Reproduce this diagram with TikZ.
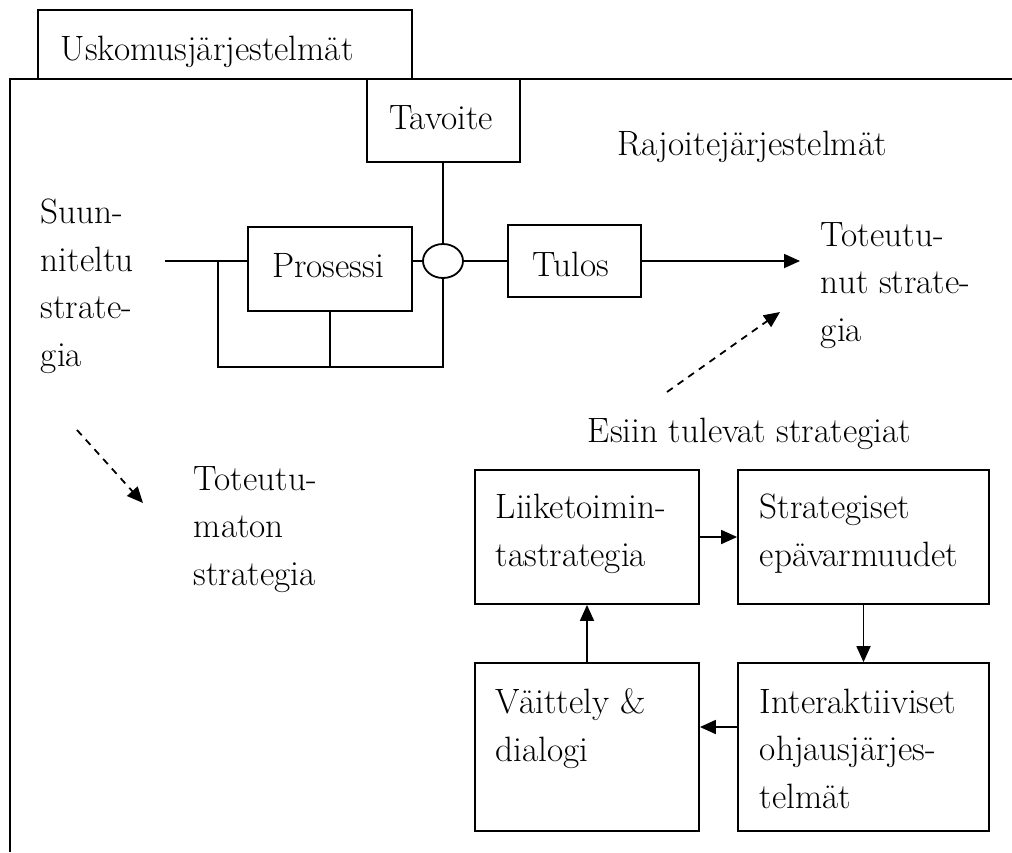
\documentclass[tikz,border=0pt]{standalone}
\usepackage{fontspec}
\usetikzlibrary{arrows.meta,fit,shapes.geometric}
\tikzset{
  box/.style={draw,line width=0.9pt,inner sep=0pt},
  lbl/.style={anchor=base west,inner sep=0pt,align=left},
  arr/.style={line width=0.9pt,-{Triangle[length=8pt,width=7pt]}},
  darr/.style={arr,dash pattern=on 3.5pt off 3pt}
}
\begin{document}
\begin{tikzpicture}[x=0.5pt,y=-0.5pt,line width=0.9pt,font=\fontsize{17.6}{23.75}\selectfont]
\useasboundingbox (0,0) rectangle (1012,852);
\draw[line width=1.3pt] (10,852) -- (10,79) -- (1012,79);
\node[box,fit={(38,10) (412,79)}] (usko) {};
\node[lbl] (uskotxt) at (60,60) {Uskomusjärjestelmät};
\node[box,fit={(367,79) (520,162)}] (tavoite) {};
\node[anchor=base,inner sep=0pt] (tavoitetxt) at (441,129) {Tavoite};
\node[lbl] (rajoite) at (617,155) {Rajoitejärjestelmät};
\node[lbl] (suun) at (40,366) {Suun-\\niteltu\\strate-\\gia};
\node[box,fit={(248,227) (412,311)}] (pros) {};
\node[anchor=base,inner sep=0pt] (prostxt) at (328,277) {Prosessi};
\node[draw,ellipse,inner sep=0pt,minimum width=20pt,minimum height=17pt] (knot) at (443,261) {};
\node[box,fit={(508,225) (641,297)}] (tulos) {};
\node[anchor=base,inner sep=0pt] (tulostxt) at (571,276) {Tulos};
\node[lbl] (toteutunut) at (820,341) {Toteutu-\\nut strate-\\gia};
\node[lbl] (esiin) at (587,442) {Esiin tulevat strategiat};
\node[lbl] (toteutumaton) at (193,585) {Toteutu-\\maton\\strategia};

\coordinate (in) at (165,261);
\coordinate (fb) at (218,261);
\coordinate (fbbot) at (218,367);
\coordinate (out) at (800,261);
\coordinate (e1) at (667,392);
\coordinate (e2) at (780,312);
\coordinate (u1) at (77,430);
\coordinate (u2) at (143,503);

\draw (in) -- (pros.west |- knot);
\draw (pros.east |- knot) -- (knot.west);
\draw (knot.east) -- (tulos.west);
\draw (knot.north |- tavoite.south) -- (knot.north);
\draw (fb) -- (fbbot) -- (knot.south |- fbbot) -- (knot.south);
\draw (pros.south) -- (pros.south |- fbbot);
\draw[arr] (tulos.east) -- (out);
\draw[darr] (e1) -- (e2);
\draw[darr] (u1) -- (u2);

\node[box,fit={(475,470) (699,604)}] (liike) {};
\node[box,fit={(738,470) (989,604)}] (strat) {};
\node[box,fit={(738,663) (989,831)}] (inter) {};
\node[box,fit={(475,663) (699,831)}] (vaitt) {};
\node[lbl] (liiketxt) at (495,566) {Liiketoimin-\\tastrategia};
\node[lbl] (strattxt) at (759,566) {Strategiset\\epävarmuudet};
\node[lbl] (intertxt) at (759,808) {Interaktiiviset\\ohjausjärjes-\\telmät};
\node[lbl] (vaitttxt) at (495,761) {Väittely \&\\dialogi};

\draw[arr] (liike.east) -- (strat.west);
\draw[arr] (strat.south) -- (inter.north);
\draw[arr] ([yshift=10pt]inter.west) -- ([yshift=10pt]inter.west -| vaitt.east);
\draw[arr] (vaitt.north) -- (liike.south);
\end{tikzpicture}
\end{document}
